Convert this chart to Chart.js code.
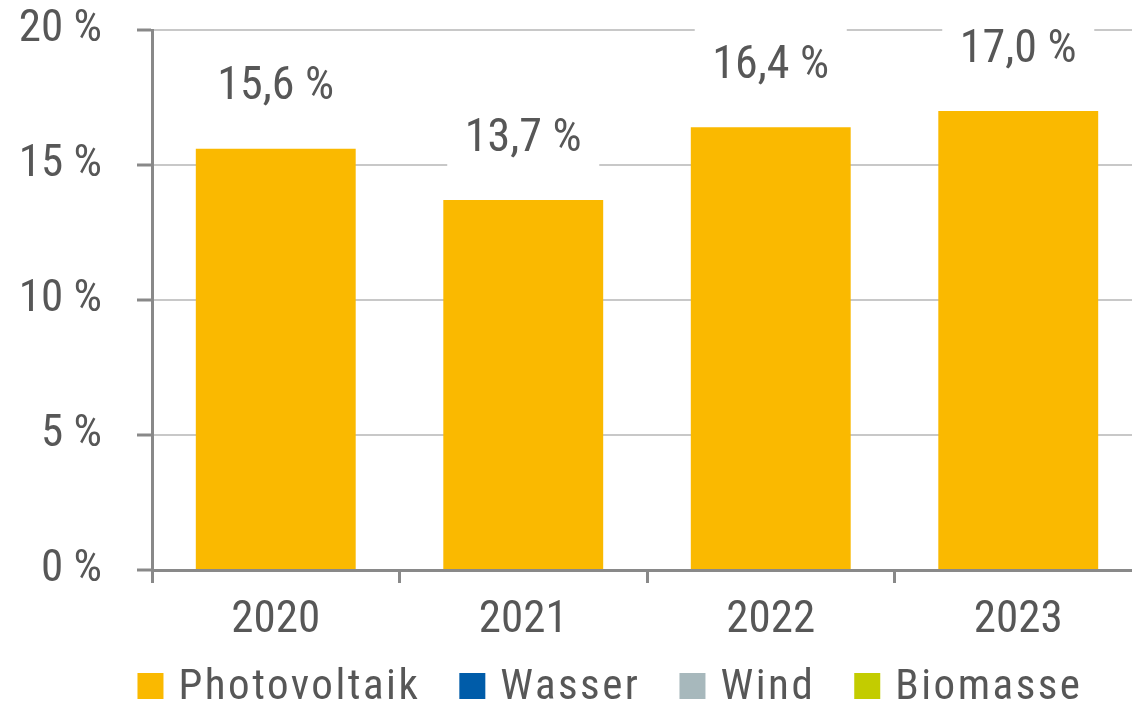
<!DOCTYPE html>
<html lang="de">
<head>
    <meta charset="UTF-8">
    <title>Photovoltaik Anteil</title>
    <script src="https://cdn.jsdelivr.net/npm/chart.js"></script>
    <style>
        html, body {
            margin: 0;
            padding: 0;
            background: #ffffff;
            overflow: hidden;
        }
        #wrap {
            position: relative;
            width: 1142px;
            height: 705px;
        }
    </style>
</head>
<body>
    <div id="wrap"><canvas id="chart"></canvas></div>

    <script>
        // Data
        const years = ['2020', '2021', '2022', '2023'];
        const photovoltaik = [15.6, 13.7, 16.4, 17.0];
        const wasser = [];
        const wind = [];
        const biomasse = [];
        const yTicks = [0, 5, 10, 15, 20];

        const seriesNames = ['Photovoltaik', 'Wasser', 'Wind', 'Biomasse'];
        const seriesColors = ['#fab900', '#005ca9', '#a7b8bc', '#c3cc00'];

        const textColor = '#575757';
        const narrow = "'Roboto Condensed', 'DejaVu Sans Condensed', sans-serif";

        const fmt = v => v.toFixed(1).replace('.', ',') + ' %';

        // value labels on a white box above each bar
        const valueLabels = {
            id: 'valueLabels',
            afterDatasetsDraw(chart) {
                const ctx = chart.ctx;
                const meta = chart.getDatasetMeta(0);
                ctx.save();
                ctx.font = '46px ' + narrow;
                ctx.textAlign = 'center';
                ctx.textBaseline = 'middle';
                meta.data.forEach((bar, i) => {
                    const cy = bar.y - 63;
                    ctx.fillStyle = '#ffffff';
                    ctx.fillRect(bar.x - 76, cy - 40, 152, 80);
                    ctx.fillStyle = textColor;
                    ctx.fillText(fmt(photovoltaik[i]), bar.x, cy + 2);
                });
                ctx.restore();
            }
        };

        // legend row under the axis
        const bottomLegend = {
            id: 'bottomLegend',
            afterDraw(chart) {
                const ctx = chart.ctx;
                const box = 26, gap = 15, spacing = 39, cy = 686;
                ctx.save();
                ctx.font = '43px ' + narrow;
                ctx.letterSpacing = '2.5px';
                ctx.textBaseline = 'middle';
                const items = chart.data.datasets.map(ds => ({
                    label: ds.label,
                    color: ds.backgroundColor,
                    w: ctx.measureText(ds.label).width
                }));
                const total = items.reduce((s, it) => s + box + gap + it.w, 0) + spacing * (items.length - 1);
                let x = 610 - total / 2;
                items.forEach(it => {
                    ctx.fillStyle = it.color;
                    ctx.fillRect(x, cy - box / 2, box, box);
                    ctx.fillStyle = textColor;
                    ctx.fillText(it.label, x + box + gap, cy + 2);
                    x += box + gap + it.w + spacing;
                });
                ctx.restore();
            }
        };

        const seriesData = [photovoltaik, wasser, wind, biomasse];

        new Chart(document.getElementById('chart'), {
            type: 'bar',
            data: {
                labels: years,
                datasets: seriesNames.map((name, i) => ({
                    label: name,
                    data: seriesData[i],
                    backgroundColor: seriesColors[i],
                    borderWidth: 0,
                    barPercentage: 0.646,
                    categoryPercentage: 1.0
                }))
            },
            options: {
                responsive: true,
                maintainAspectRatio: false,
                animation: false,
                layout: {
                    padding: { top: 30, left: 0, right: 0, bottom: 59 }
                },
                plugins: {
                    legend: { display: false },
                    tooltip: { enabled: false }
                },
                scales: {
                    x: {
                        stacked: true,
                        afterFit(scale) {
                            scale.height = 76;
                            scale.paddingLeft = 0;
                            scale.paddingRight = 0;
                        },
                        border: { display: true, color: '#898989', width: 3 },
                        grid: {
                            offset: true,
                            drawOnChartArea: false,
                            drawTicks: true,
                            tickLength: 13,
                            tickColor: '#898989',
                            tickWidth: 3
                        },
                        ticks: {
                            color: textColor,
                            font: { family: narrow, size: 45 },
                            padding: 11
                        }
                    },
                    y: {
                        stacked: true,
                        min: yTicks[0],
                        max: yTicks[yTicks.length - 1],
                        afterBuildTicks(scale) {
                            scale.ticks = yTicks.map(v => ({ value: v }));
                        },
                        afterFit(scale) {
                            scale.width = 152;
                            scale.paddingTop = 0;
                            scale.paddingBottom = 0;
                        },
                        border: { display: true, color: '#898989', width: 3 },
                        grid: {
                            color: '#c8c8c8',
                            lineWidth: 2,
                            drawTicks: true,
                            tickLength: 15,
                            tickColor: '#898989',
                            tickWidth: 3
                        },
                        ticks: {
                            color: textColor,
                            font: { family: narrow, size: 45 },
                            padding: 35,
                            callback: v => v + ' %'
                        }
                    }
                }
            },
            plugins: [valueLabels, bottomLegend]
        });
    </script>
</body>
</html>
